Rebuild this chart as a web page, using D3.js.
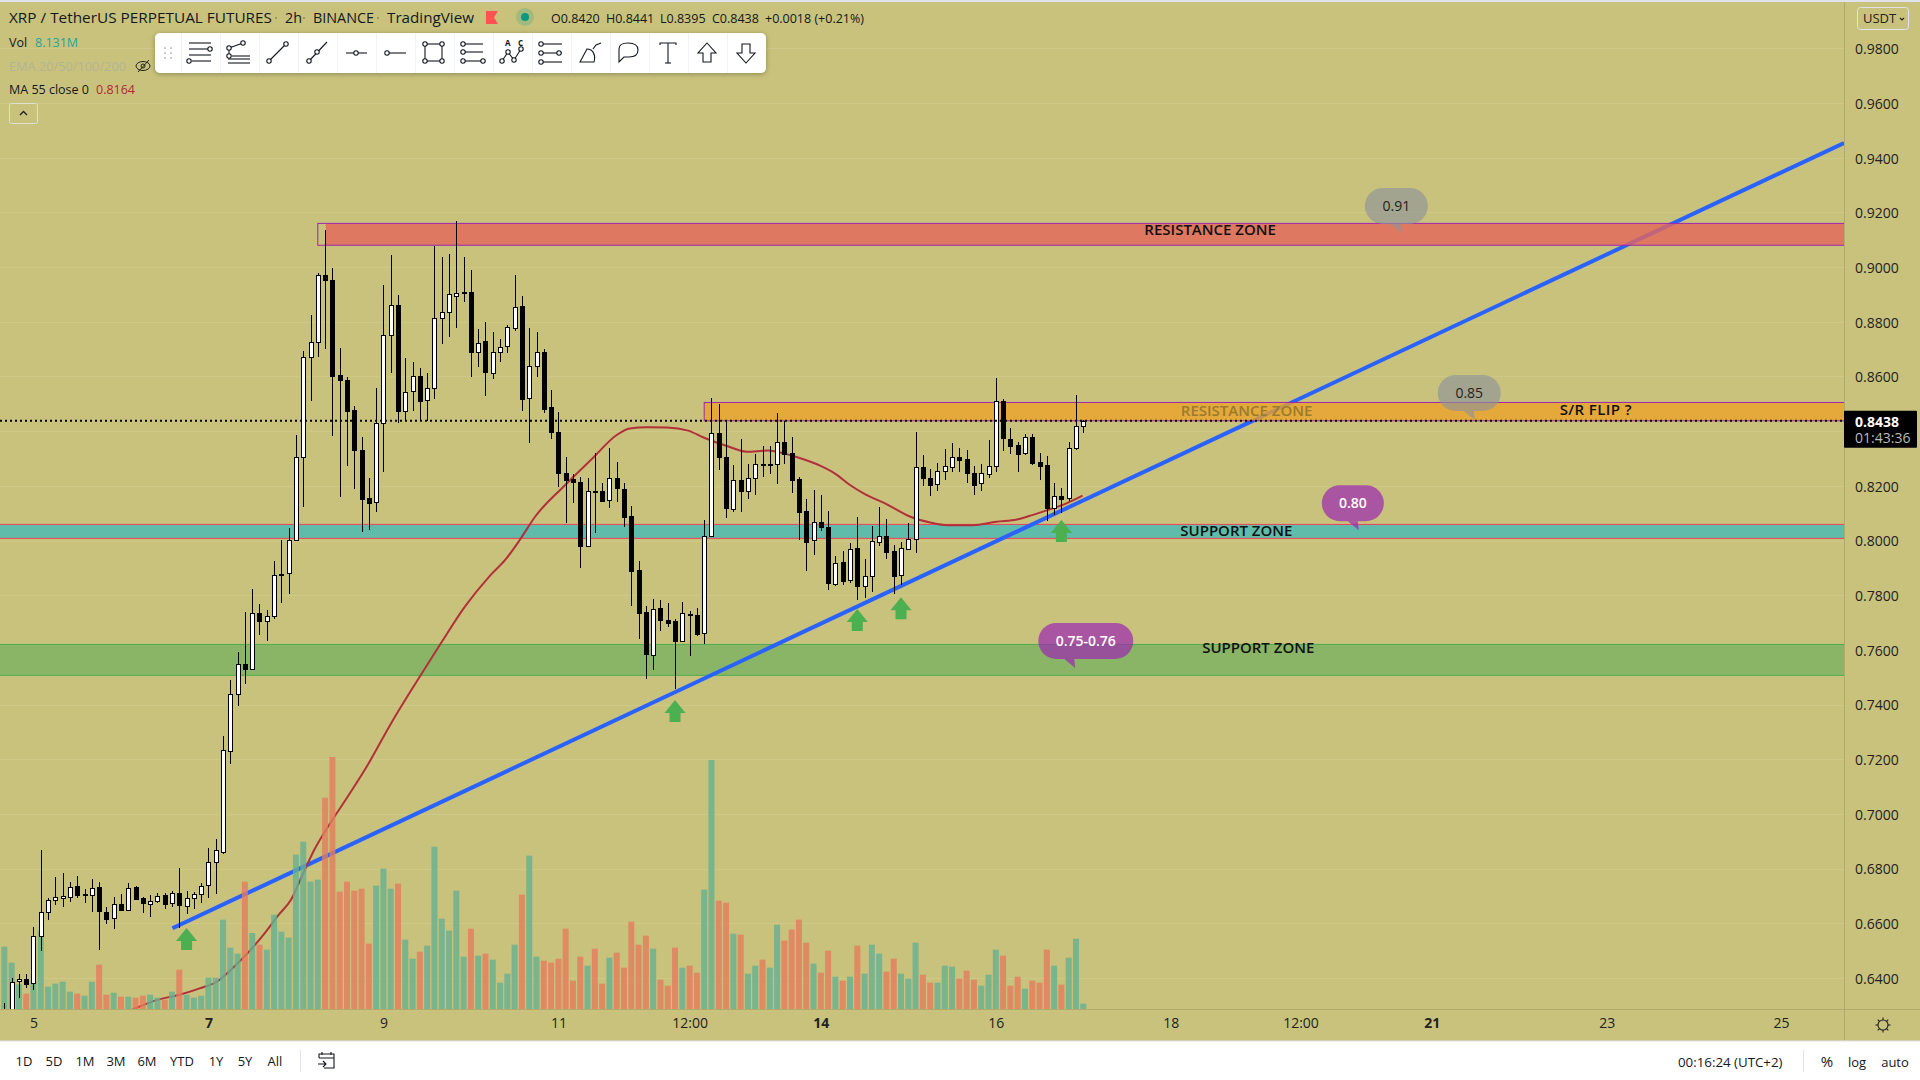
<!DOCTYPE html>
<html>
<head>
<meta charset="utf-8">
<title>XRP / TetherUS 2h</title>
<script src="https://cdn.jsdelivr.net/npm/d3@7"></script>
<style>
  html, body { margin: 0; padding: 0; background: #fff; }
  svg { display: block; }
  text { font-family: "Open Sans", sans-serif; }
</style>
</head>
<body>
<div class="canvas"></div>
<script>
// bars run from number -4 up to 144, 2h each, bar 0 sits under the "5" label
const firstBar = -4;

const barOpen = [
  .6220,.6200,.6387,.6395,.6381,.6551,.6640,.6683,.6694,.6697,
  .6736,.6705,.6705,.6732,.6643,.6617,.6671,.6651,.6732,.6691,
  .6672,.6683,.6704,.6672,.6710,.6665,.6695,.6708,.6738,.6823,
  .6862,.7231,.7437,.7548,.7531,.7734,.7703,.7722,.7873,.7880,
  .8002,.8304,.8670,.8725,.8970,.8953,.8604,.8587,.8477,.8331,
  .8156,.8139,.8429,.8751,.8862,.8475,.8545,.8602,.8512,.8557,
  .8813,.8835,.8897,.8907,.8909,.8691,.8729,.8614,.8691,.8709,
  .8780,.8858,.8519,.8636,.8690,.8488,.8397,.8246,.8225,.8214,
  .7981,.8183,.8180,.8147,.8227,.8188,.8090,.7894,.7737,.7583,
  .7752,.7709,.7704,.7630,.7730,.7727,.7660,.8015,.8392,.8304,
  .8114,.8220,.8180,.8227,.8280,.8276,.8279,.8360,.8319,.8225,
  .8108,.8000,.8067,.8048,.7844,.7921,.7853,.7972,.7832,.7868,
  .7996,.8017,.7962,.7872,.7970,.8005,.8268,.8229,.8205,.8252,
  .8270,.8306,.8298,.8247,.8208,.8241,.8270,.8509,.8370,.8350,
  .8318,.8379,.8287,.8277,.8119,.8163,.8153,.8336,.8420
];
const barHigh = [
  .6310,.6399,.6415,.6415,.6588,.6868,.6691,.6768,.6783,.6752,
  .6773,.6724,.6761,.6752,.6661,.6695,.6707,.6746,.6736,.6697,
  .6704,.6712,.6710,.6719,.6801,.6718,.6713,.6746,.6874,.6907,
  .7285,.7490,.7592,.7739,.7822,.7768,.7746,.7925,.8002,.8046,
  .8386,.8693,.8825,.8977,.9136,.8996,.8703,.8597,.8492,.8378,
  .8229,.8558,.8935,.9044,.8898,.8666,.8652,.8630,.8612,.9077,
  .9038,.9048,.9169,.9038,.8990,.8774,.8799,.8764,.8737,.8788,
  .8971,.8894,.8777,.8763,.8699,.8551,.8469,.8304,.8242,.8233,
  .8227,.8322,.8209,.8337,.8286,.8209,.8126,.7925,.7760,.7786,
  .7782,.7770,.7712,.7774,.7742,.7752,.8075,.8520,.8499,.8438,
  .8276,.8370,.8280,.8316,.8346,.8346,.8466,.8438,.8377,.8231,
  .8152,.8185,.8167,.8108,.7944,.7962,.7992,.8086,.7933,.8053,
  .8123,.8079,.7984,.7995,.8063,.8397,.8313,.8262,.8283,.8335,
  .8356,.8339,.8331,.8273,.8280,.8368,.8595,.8518,.8411,.8361,
  .8389,.8389,.8320,.8309,.8211,.8192,.8361,.8533,.8441
];
const barLow = [
  .6180,.6150,.6326,.6362,.6356,.6500,.6612,.6667,.6661,.6679,
  .6691,.6673,.6643,.6502,.6597,.6579,.6649,.6651,.6689,.6639,
  .6624,.6673,.6652,.6661,.6582,.6634,.6652,.6676,.6694,.6707,
  .6855,.7183,.7396,.7475,.7531,.7655,.7634,.7714,.7770,.7806,
  .8002,.8124,.8512,.8673,.8699,.8382,.8159,.8273,.8190,.8032,
  .8039,.8106,.8252,.8612,.8431,.8438,.8475,.8438,.8438,.8518,
  .8719,.8746,.8779,.8874,.8599,.8636,.8530,.8591,.8654,.8687,
  .8768,.8474,.8358,.8599,.8468,.8373,.8197,.8065,.8138,.7901,
  .7977,.8026,.8142,.8120,.8142,.8051,.7760,.7641,.7493,.7526,
  .7670,.7682,.7457,.7630,.7579,.7652,.7621,.8015,.8258,.8083,
  .8104,.8105,.8152,.8166,.8233,.8242,.8207,.8280,.8175,.8002,
  .7890,.7947,.8036,.7819,.7832,.7838,.7844,.7783,.7790,.7813,
  .7981,.7933,.7805,.7838,.7966,.7956,.8201,.8163,.8183,.8222,
  .8249,.8249,.8212,.8167,.8183,.8229,.8252,.8328,.8317,.8249,
  .8313,.8277,.8222,.8072,.8094,.8101,.8145,.8331,.8394
];
const barClose = [
  .6260,.6387,.6395,.6378,.6554,.6640,.6685,.6695,.6700,.6734,
  .6704,.6707,.6730,.6643,.6616,.6669,.6649,.6730,.6689,.6671,
  .6683,.6701,.6671,.6710,.6665,.6694,.6708,.6738,.6823,.6867,
  .7234,.7439,.7547,.7531,.7734,.7703,.7723,.7873,.7878,.8002,
  .8304,.8670,.8725,.8970,.8950,.8603,.8587,.8475,.8329,.8153,
  .8139,.8429,.8751,.8860,.8475,.8545,.8601,.8512,.8557,.8813,
  .8835,.8901,.8907,.8909,.8691,.8724,.8614,.8691,.8709,.8780,
  .8855,.8519,.8637,.8688,.8481,.8395,.8246,.8221,.8215,.7981,
  .8183,.8179,.8142,.8227,.8190,.8087,.7890,.7736,.7582,.7751,
  .7707,.7699,.7630,.7734,.7725,.7659,.8015,.8392,.8303,.8116,
  .8220,.8179,.8227,.8279,.8276,.8280,.8359,.8316,.8222,.8105,
  .7996,.8066,.8047,.7843,.7919,.7853,.7968,.7832,.7869,.7997,
  .8017,.7960,.7872,.7972,.8006,.8268,.8227,.8205,.8253,.8272,
  .8305,.8295,.8245,.8203,.8246,.8272,.8509,.8373,.8346,.8317,
  .8378,.8284,.8273,.8119,.8162,.8153,.8337,.8418,.8438
];
// volume in millions
const barVolume = [
  93.5,69.5,37,23,41,118,33.5,38,41,26,
  23,20,41,66.5,21.5,24.5,18.5,18.5,17,20,
  21.5,17,14,26,59,21.5,17,20,47,47,
  134,92,83,191,114,96.5,89,141.5,116,107,
  231.5,251,191,194,317,378,176,191,177.5,180.5,
  98,185,210.5,180.5,188,104,75.5,86,95,243.5,
  135.5,117.5,177.5,78.5,120.5,80,83,74,39.5,53,
  96.5,171.5,230,78.5,72.5,69.5,75.5,120.5,42.5,78.5,
  65,90.5,38,77,84.5,62,131,96.5,110,90.5,
  44,35,92,62,65,54.5,179,373.5,162.5,159.5,
  113,111.5,53,65,74,62,126.5,102.5,119,134,
  99.5,68,54.5,87.5,48.5,42.5,48.5,95,53,96.5,
  83,56,75.5,53,45.5,99.5,51.5,39.5,39.5,65,
  63.5,45.5,57.5,44,35,51.5,89,80,35,48.5,
  30.5,42.5,39.5,89,65,36.5,77,105.5,8
];

// MA 55 at these bar numbers
const maBars = [
  13.6,17,19.9,22.8,25.3,26.8,28.7,31.7,33.6,35.3,37,38.5,40.7,42.8,45.8,49.1,52.5,55.9,59.2,62.6,
  64.7,66.7,68.8,72.7,76.8,80,81.8,84.1,86.9,89.8,91.9,95.1,97.8,100.8,103.3,105.2,107.9,110,112,114.1,
  116.8,120.2,123,125.3,128.9,132.1,134.9,137.1,139.4,141.7,143.9
];
const maValues = [
  .6285,.6320,.6338,.6362,.6389,.6423,.6472,.6563,.6630,.6685,.6783,.6868,.6966,.7051,.7177,.7334,.7482,.7625,.7759,.7871,
  .7929,.8002,.8087,.8197,.8304,.8386,.8410,.8414,.8413,.8402,.8377,.8346,.8325,.8329,.8316,.8301,.8274,.8244,.8203,.8169,
  .8136,.8088,.8066,.8056,.8056,.8069,.8077,.8094,.8114,.8136,.8164
];

// trend line end points
const trendBars = [19.07, 248.35];
const trendPrices = [.6582, .9454];

// price zones
const zoneNames = ['RESISTANCE ZONE', 'RESISTANCE ZONE', 'SUPPORT ZONE', 'SUPPORT ZONE'];
const zoneTops = [.9160, .8505, .8059, .7620];
const zoneBottoms = [.9080, .8438, .8008, .7507];
const zoneOutlineStart = [39, 92, -6, -6];
const zoneFillStart = [40.1, 92, -4.6, -4.6];
const zoneFills = ['#e56559', '#eca12b', '#5fbbaa', '#8ab566'];
const zoneStrokes = ['#9c27b0', '#9c27b0', '#f0405a', '#4caf50'];
const zoneFillOpacity = [.8, .8, 1, 1];
const zoneLabelBars = [161.4, 166.4, 165, 168];
const zoneLabelShift = [-5, -1, -1, -12];
const zoneLabelColors = ['#111', '#9a7a2e', '#111', '#111'];
const extraLabel = { text: 'S/R FLIP ?', bar: 214.3, price: .8478 };

// green up arrows under the touches
const arrowBars = [21, 88, 113, 119, 141];
const arrowPrices = [.6583, .7417, .7750, .7793, .8075];

// callouts
const calloutLabels = ['0.91', '0.85', '0.80', '0.75-0.76'];
const calloutBars = [187.7, 197.7, 181.8, 142.9];
const calloutPrices = [.9125, .8441, .8038, .7534];
const calloutWidths = [63, 63, 62, 95];
const calloutKinds = ['grey', 'grey', 'purple', 'purple'];

// axes
const priceTicks = d3.range(32, 50).map(d => d / 50);
// 0.8400 stays behind the last price tag, so it gets no label
const priceLabels = priceTicks.filter(d => d !== .84);
const timeBars = [0, 24, 48, 72, 90, 108, 132, 156, 173.8, 191.8, 215.8, 239.7];
const timeLabels = ['5', '7', '9', '11', '12:00', '14', '16', '18', '12:00', '21', '23', '25'];
const boldLabels = ['7', '14', '21'];

const rangeButtons = ['1D', '5D', '1M', '3M', '6M', 'YTD', '1Y', '5Y', 'All'];
const rangeButtonX = [24, 54, 85, 116, 147, 182, 216, 245, 275];

const W = 1920, H = 1080;
const paneRight = 1844, paneBottom = 1009, axisBottom = 1041;

const x = d3.scaleLinear().domain([-4.595, 248.35]).range([0, paneRight]);
const y = d3.scaleLinear().domain([.64, .98]).range([978, 48.4]);
const yVol = d3.scaleLinear().domain([0, 378]).range([paneBottom, paneBottom - 252]);

const svg = d3.select('.canvas').append('svg').attr('width', W).attr('height', H);

// backgrounds
svg.append('rect').attr('width', W).attr('height', H).attr('fill', '#fff');
svg.append('rect').attr('width', W).attr('height', axisBottom).attr('fill', '#c9c27c');
svg.append('rect').attr('width', W).attr('height', 2).attr('fill', '#e0e3eb');

svg.append('clipPath').attr('id', 'pane')
  .append('rect').attr('y', 2).attr('width', paneRight).attr('height', paneBottom - 2);

const pane = svg.append('g').attr('clip-path', 'url(#pane)');

// grid
pane.selectAll('.grid').data(priceTicks).join('line')
  .attr('x1', 0).attr('x2', paneRight)
  .attr('y1', d => Math.round(y(d)) + .5).attr('y2', d => Math.round(y(d)) + .5)
  .attr('stroke', '#fff').attr('stroke-opacity', .1);

function drawZone(i) {
  const top = y(zoneTops[i]), bottom = y(zoneBottoms[i]);
  pane.append('rect')
    .attr('x', x(zoneFillStart[i])).attr('y', top)
    .attr('width', paneRight - x(zoneFillStart[i])).attr('height', bottom - top)
    .attr('fill', zoneFills[i]).attr('fill-opacity', zoneFillOpacity[i]);
  pane.append('rect')
    .attr('x', x(zoneOutlineStart[i])).attr('y', top)
    .attr('width', paneRight - x(zoneOutlineStart[i]) + 5).attr('height', bottom - top)
    .attr('fill', 'none').attr('stroke', zoneStrokes[i]).attr('stroke-width', 1);
}

// support zones sit under the lines
drawZone(2);
drawZone(3);

// trend line
pane.append('line')
  .attr('x1', x(trendBars[0])).attr('y1', y(trendPrices[0]))
  .attr('x2', x(trendBars[1])).attr('y2', y(trendPrices[1]))
  .attr('stroke', '#2962ff').attr('stroke-width', 4);

// MA 55
const maLine = d3.line().x(d => x(d[0])).y(d => y(d[1])).curve(d3.curveMonotoneX);
pane.append('path')
  .attr('d', maLine(d3.zip(maBars, maValues)))
  .attr('fill', 'none').attr('stroke', '#b2303a').attr('stroke-width', 2);

// resistance zones are see through, the lines show under them
drawZone(0);
drawZone(1);

// volume
const bars = barOpen.map((o, i) => ({
  n: firstBar + i, o, h: barHigh[i], l: barLow[i], c: barClose[i], v: barVolume[i]
}));

pane.selectAll('.vol').data(bars).join('rect')
  .attr('x', d => x(d.n) - 3).attr('width', 6)
  .attr('y', d => yVol(d.v)).attr('height', d => paneBottom - yVol(d.v))
  .attr('fill', d => d.c >= d.o ? '#66b091' : '#e67c5c')
  .attr('fill-opacity', .8);

// candles
const candle = pane.selectAll('.candle').data(bars).join('g')
  .attr('shape-rendering', 'crispEdges');
candle.append('line')
  .attr('x1', d => Math.round(x(d.n)) + .5).attr('x2', d => Math.round(x(d.n)) + .5)
  .attr('y1', d => y(d.h)).attr('y2', d => y(d.l))
  .attr('stroke', '#000');
candle.append('rect')
  .attr('x', d => Math.round(x(d.n)) - 1.5).attr('width', 4)
  .attr('y', d => Math.round(y(Math.max(d.o, d.c))) + .5)
  .attr('height', d => Math.max(1, Math.round(y(Math.min(d.o, d.c)) - y(Math.max(d.o, d.c)))))
  .attr('fill', d => d.c >= d.o ? '#fff' : '#000')
  .attr('stroke', '#000');

// last price dotted line
const lastPrice = barClose[barClose.length - 1];
pane.append('line')
  .attr('x1', 0).attr('x2', paneRight)
  .attr('y1', y(lastPrice)).attr('y2', y(lastPrice))
  .attr('stroke', '#000').attr('stroke-width', 2).attr('stroke-dasharray', '2 3');

// arrows
pane.selectAll('.arrow').data(d3.zip(arrowBars, arrowPrices)).join('path')
  .attr('transform', d => `translate(${x(d[0])},${y(d[1])})`)
  .attr('d', 'M0,0L10.5,13H5.5V22H-5.5V13H-10.5Z')
  .attr('fill', '#4caf50');

// callouts
const callout = pane.selectAll('.callout').data(calloutLabels).join('g')
  .attr('transform', (d, i) => `translate(${x(calloutBars[i])},${y(calloutPrices[i])})`);
callout.append('rect')
  .attr('x', -37).attr('y', -45).attr('height', 36).attr('rx', 18)
  .attr('width', (d, i) => calloutWidths[i])
  .attr('fill', (d, i) => calloutKinds[i] === 'grey' ? '#8f9499' : '#9c27b0')
  .attr('fill-opacity', (d, i) => calloutKinds[i] === 'grey' ? .65 : .7);
callout.append('path')
  .attr('d', 'M-11,-9L0,0L-1,-9Z')
  .attr('fill', (d, i) => calloutKinds[i] === 'grey' ? '#8f9499' : '#9c27b0')
  .attr('fill-opacity', (d, i) => calloutKinds[i] === 'grey' ? .65 : .7);
callout.append('text')
  .attr('x', (d, i) => -37 + calloutWidths[i] / 2).attr('y', -27).attr('dy', '.35em')
  .attr('text-anchor', 'middle').attr('font-size', 14)
  .attr('font-weight', (d, i) => calloutKinds[i] === 'grey' ? 400 : 600)
  .attr('fill', (d, i) => calloutKinds[i] === 'grey' ? '#222' : '#fff')
  .text(d => d);

// zone labels
pane.selectAll('.zone-label').data(zoneNames).join('text')
  .attr('x', (d, i) => x(zoneLabelBars[i]))
  .attr('y', (d, i) => y((zoneTops[i] + zoneBottoms[i]) / 2) + zoneLabelShift[i])
  .attr('dy', '.35em').attr('text-anchor', 'middle')
  .attr('font-size', 15).attr('font-weight', 600)
  .attr('fill', (d, i) => zoneLabelColors[i])
  .text(d => d);
pane.append('text')
  .attr('x', x(extraLabel.bar)).attr('y', y(extraLabel.price)).attr('dy', '.35em')
  .attr('text-anchor', 'middle').attr('font-size', 15).attr('font-weight', 600)
  .attr('letter-spacing', .4).attr('fill', '#111').text(extraLabel.text);

// price axis
const yAxis = d3.axisRight(y).tickValues(priceLabels).tickFormat(d3.format('.4f')).tickSize(0).tickPadding(11);
const yAxisG = svg.append('g').attr('transform', `translate(${paneRight},0)`).call(yAxis);
yAxisG.select('.domain').remove();
yAxisG.selectAll('text').attr('font-size', 14).attr('fill', '#222').attr('dy', '.38em').style('font-family', '"Open Sans", sans-serif');

// time axis
const xAxis = d3.axisBottom(x).tickValues(timeBars).tickFormat((d, i) => timeLabels[i]).tickSize(0).tickPadding(9);
const xAxisG = svg.append('g').attr('transform', `translate(0,${paneBottom})`).call(xAxis);
xAxisG.select('.domain').remove();
xAxisG.selectAll('text')
  .attr('font-size', 14).attr('fill', '#222')
  .attr('font-weight', (d, i) => boldLabels.includes(timeLabels[i]) ? 700 : 400)
  .style('font-family', '"Open Sans", sans-serif');

// pane borders
svg.append('line').attr('x1', paneRight + .5).attr('x2', paneRight + .5).attr('y1', 2).attr('y2', axisBottom).attr('stroke', '#b1aa6a');
svg.append('line').attr('x1', 0).attr('x2', W).attr('y1', paneBottom + .5).attr('y2', paneBottom + .5).attr('stroke', '#b1aa6a');
svg.append('line').attr('x1', 0).attr('x2', W).attr('y1', axisBottom).attr('y2', axisBottom).attr('stroke', '#e0e3eb');

// last price tag
const tag = svg.append('g').attr('transform', `translate(${paneRight},${y(lastPrice) - 10})`);
tag.append('rect').attr('width', 73).attr('height', 37).attr('rx', 1).attr('fill', '#000');
tag.append('text').attr('x', 11).attr('y', 16).attr('font-size', 14).attr('font-weight', 700).attr('fill', '#fff').text(d3.format('.4f')(lastPrice));
tag.append('text').attr('x', 11).attr('y', 32).attr('font-size', 14).attr('fill', '#bbb').text('01:43:36');

// USDT selector
svg.append('rect').attr('x', 1857.5).attr('y', 7.5).attr('width', 51).attr('height', 22).attr('rx', 3)
  .attr('fill', 'none').attr('stroke', '#e0e3eb').attr('stroke-width', 1);
svg.append('text').attr('x', 1863).attr('y', 23).attr('font-size', 13).attr('fill', '#222').text('USDT');
svg.append('path').attr('d', 'M1900,18l2,2l2,-2').attr('fill', 'none').attr('stroke', '#222').attr('stroke-width', 1.2);

// header legend
const legend = svg.append('g').attr('font-size', 14).attr('fill', '#131722');
[['XRP / TetherUS PERPETUAL FUTURES', 9, 263], ['2h', 285, 17], ['BINANCE', 313, 61], ['TradingView', 387, 87]]
  .forEach(d => legend.append('text').attr('x', d[1]).attr('y', 23).attr('font-size', 15)
    .attr('textLength', d[2]).attr('lengthAdjust', 'spacingAndGlyphs').text(d[0]));
[276, 304, 378].forEach(dx => legend.append('circle').attr('cx', dx).attr('cy', 18).attr('r', 1).attr('fill', '#8a8a6a'));
[['O0.8420', 551], ['H0.8441', 606], ['L0.8395', 660], ['C0.8438', 712], ['+0.0018 (+0.21%)', 765]]
  .forEach(d => legend.append('text').attr('x', d[1]).attr('y', 23).attr('font-size', 12.5).text(d[0]));
legend.append('path').attr('d', 'M486,11H498L494,17.5L498,24H486Z').attr('fill', '#ff5252');
legend.append('circle').attr('cx', 525).attr('cy', 17).attr('r', 9).attr('fill', '#089981').attr('fill-opacity', .2);
legend.append('circle').attr('cx', 525).attr('cy', 17).attr('r', 4).attr('fill', '#089981');

legend.append('text').attr('x', 9).attr('y', 47).attr('font-size', 12.5).text('Vol');
legend.append('text').attr('x', 35).attr('y', 47).attr('font-size', 12.5).attr('fill', '#26a69a').text('8.131M');
legend.append('text').attr('x', 9).attr('y', 71).attr('font-size', 12.5).attr('fill', '#b3b493')
  .attr('textLength', 117).attr('lengthAdjust', 'spacingAndGlyphs').text('EMA 20/50/100/200');
legend.append('text').attr('x', 9).attr('y', 94).attr('font-size', 12.5).text('MA 55 close 0');
legend.append('text').attr('x', 96).attr('y', 94).attr('font-size', 12.5).attr('fill', '#b22833').text('0.8164');

// hidden eye
const eye = legend.append('g').attr('transform', 'translate(143,66)').attr('fill', 'none').attr('stroke', '#222');
eye.append('ellipse').attr('rx', 7).attr('ry', 4.5);
eye.append('circle').attr('r', 2);
eye.append('line').attr('x1', -5).attr('y1', 6).attr('x2', 6).attr('y2', -6);

// collapse button
svg.append('rect').attr('x', 9.5).attr('y', 103.5).attr('width', 28).attr('height', 20).attr('rx', 2)
  .attr('fill', 'none').attr('stroke', '#dfe0d0');
svg.append('path').attr('d', 'M20,115l3.5,-3.5l3.5,3.5').attr('fill', 'none').attr('stroke', '#222').attr('stroke-width', 1.4);

// drawing toolbar
const shadow = svg.append('defs').append('filter').attr('id', 'shadow')
  .attr('x', '-5%').attr('y', '-30%').attr('width', '110%').attr('height', '170%');
shadow.append('feDropShadow').attr('dx', 0).attr('dy', 1).attr('stdDeviation', 2.5).attr('flood-color', '#000').attr('flood-opacity', .3);

const toolbar = svg.append('g');
toolbar.append('rect').attr('x', 155).attr('y', 33).attr('width', 611).attr('height', 40).attr('rx', 5)
  .attr('fill', '#fff').attr('filter', 'url(#shadow)');
[165, 171].forEach(gx => [48, 53, 58].forEach(gy =>
  toolbar.append('rect').attr('x', gx - 1).attr('y', gy - 1).attr('width', 2).attr('height', 2).attr('fill', '#c8ccd6')));
d3.range(15).forEach(i => toolbar.append('line')
  .attr('x1', 181.5 + 39 * i).attr('x2', 181.5 + 39 * i).attr('y1', 33).attr('y2', 73).attr('stroke', '#f0f3fa'));

// icons: l = lines, c = little circles, p = free paths
const tools = [
  { l: [[-11,-10,11,-10],[-11,-4,8,-4],[-11,2,11,2],[-8,8,11,8]], c: [[10,-4],[-11,8]] },
  { l: [[-10,-5,4,-10],[-10,-5,-10,3],[-7,3,11,3],[-11,6,11,6],[-11,10,11,10]], c: [[-10,-5],[4,-10],[-10,3]] },
  { l: [[-9,8,8,-9]], c: [[-9,8],[8,-9]] },
  { l: [[-8,8,10,-11]], c: [[-8,8],[0,-1]] },
  { l: [[-10,0,11,0]], c: [[0,0]] },
  { l: [[-8,0,11,0]], c: [[-8,0]] },
  { l: [[-9,-9,8,-9],[8,-9,8,8],[8,8,-9,8],[-9,8,-9,-9]], c: [[-9,-9],[8,-9],[8,8],[-9,8]] },
  { l: [[-8,-9,10,-9],[-8,-1,10,-1],[-8,8,10,8]], c: [[-10,-9],[-10,-1],[-10,8],[10,8]] },
  { l: [[-10,8,-4,-1],[-4,-1,2,7],[2,7,9,-4]], c: [[-10,8],[-4,-1],[2,7],[9,-4]] },
  { l: [[-8,-9,11,-9],[-8,0,11,0],[-8,9,11,9]], c: [[-10,-9],[-10,0],[-10,9],[8,0]] },
  { p: ['M-10,9L-3,-4C3,-4,6,2,4,9Z', 'M3,-4L6,-8L11,-10'] },
  { p: ['M-10,9V-4C-10,-9,-6,-10,-1,-10C6,-10,9,-7,9,-3C9,2,5,4,0,4H-5Z'] },
  { p: ['M-8,-8V-10H8V-8', 'M0,-10V10', 'M-3,10H3'] },
  { p: ['M0,-10L9,0H4V9H-4V0H-9Z'] },
  { p: ['M0,10L9,0H4V-9H-4V0H-9Z'] }
];

tools.forEach((t, i) => {
  const g = toolbar.append('g')
    .attr('transform', `translate(${200 + 39 * i},53)`)
    .attr('fill', 'none').attr('stroke', '#131722').attr('stroke-width', 1.1);
  (t.p || []).forEach(p => g.append('path').attr('d', p));
  (t.l || []).forEach(l => g.append('line').attr('x1', l[0]).attr('y1', l[1]).attr('x2', l[2]).attr('y2', l[3]));
  (t.c || []).forEach(c => g.append('circle').attr('cx', c[0]).attr('cy', c[1]).attr('r', 2.2).attr('fill', '#fff'));
});
toolbar.append('text').attr('x', 505).attr('y', 46).attr('font-size', 8).attr('font-weight', 700).attr('fill', '#131722').text('A');
toolbar.append('text').attr('x', 518).attr('y', 46).attr('font-size', 8).attr('font-weight', 700).attr('fill', '#131722').text('C');

// bottom bar
svg.selectAll('.range').data(rangeButtons).join('text')
  .attr('x', (d, i) => rangeButtonX[i]).attr('y', 1066)
  .attr('text-anchor', 'middle').attr('font-size', 13).attr('fill', '#131722')
  .text(d => d);
svg.append('line').attr('x1', 300.5).attr('x2', 300.5).attr('y1', 1050).attr('y2', 1072).attr('stroke', '#e0e3eb');
const cal = svg.append('g').attr('transform', 'translate(326,1061)').attr('fill', 'none').attr('stroke', '#131722').attr('stroke-width', 1.1);
cal.append('path').attr('d', 'M-7,-3V-7H8V7H-2');
cal.append('path').attr('d', 'M-7,-3H8M-4,-9V-6M5,-9V-6M-8,3H0M-3,0L0,3L-3,6');
svg.append('text').attr('x', 1678).attr('y', 1067).attr('font-size', 13.3).attr('fill', '#131722').text('00:16:24 (UTC+2)');
svg.append('line').attr('x1', 1803.5).attr('x2', 1803.5).attr('y1', 1050).attr('y2', 1072).attr('stroke', '#e0e3eb');
[['%', 1827, 15], ['log', 1857, 13], ['auto', 1895, 13]].forEach(d =>
  svg.append('text').attr('x', d[1]).attr('y', 1067).attr('text-anchor', 'middle').attr('font-size', d[2]).attr('fill', '#131722').text(d[0]));

// settings gear
const gear = svg.append('g').attr('transform', 'translate(1883,1025)').attr('fill', 'none').attr('stroke', '#222').attr('stroke-width', 1.1);
gear.append('circle').attr('r', 5);
d3.range(8).forEach(i => gear.append('line').attr('y1', -5).attr('y2', -7.5).attr('transform', `rotate(${i * 45})`));
</script>
</body>
</html>
